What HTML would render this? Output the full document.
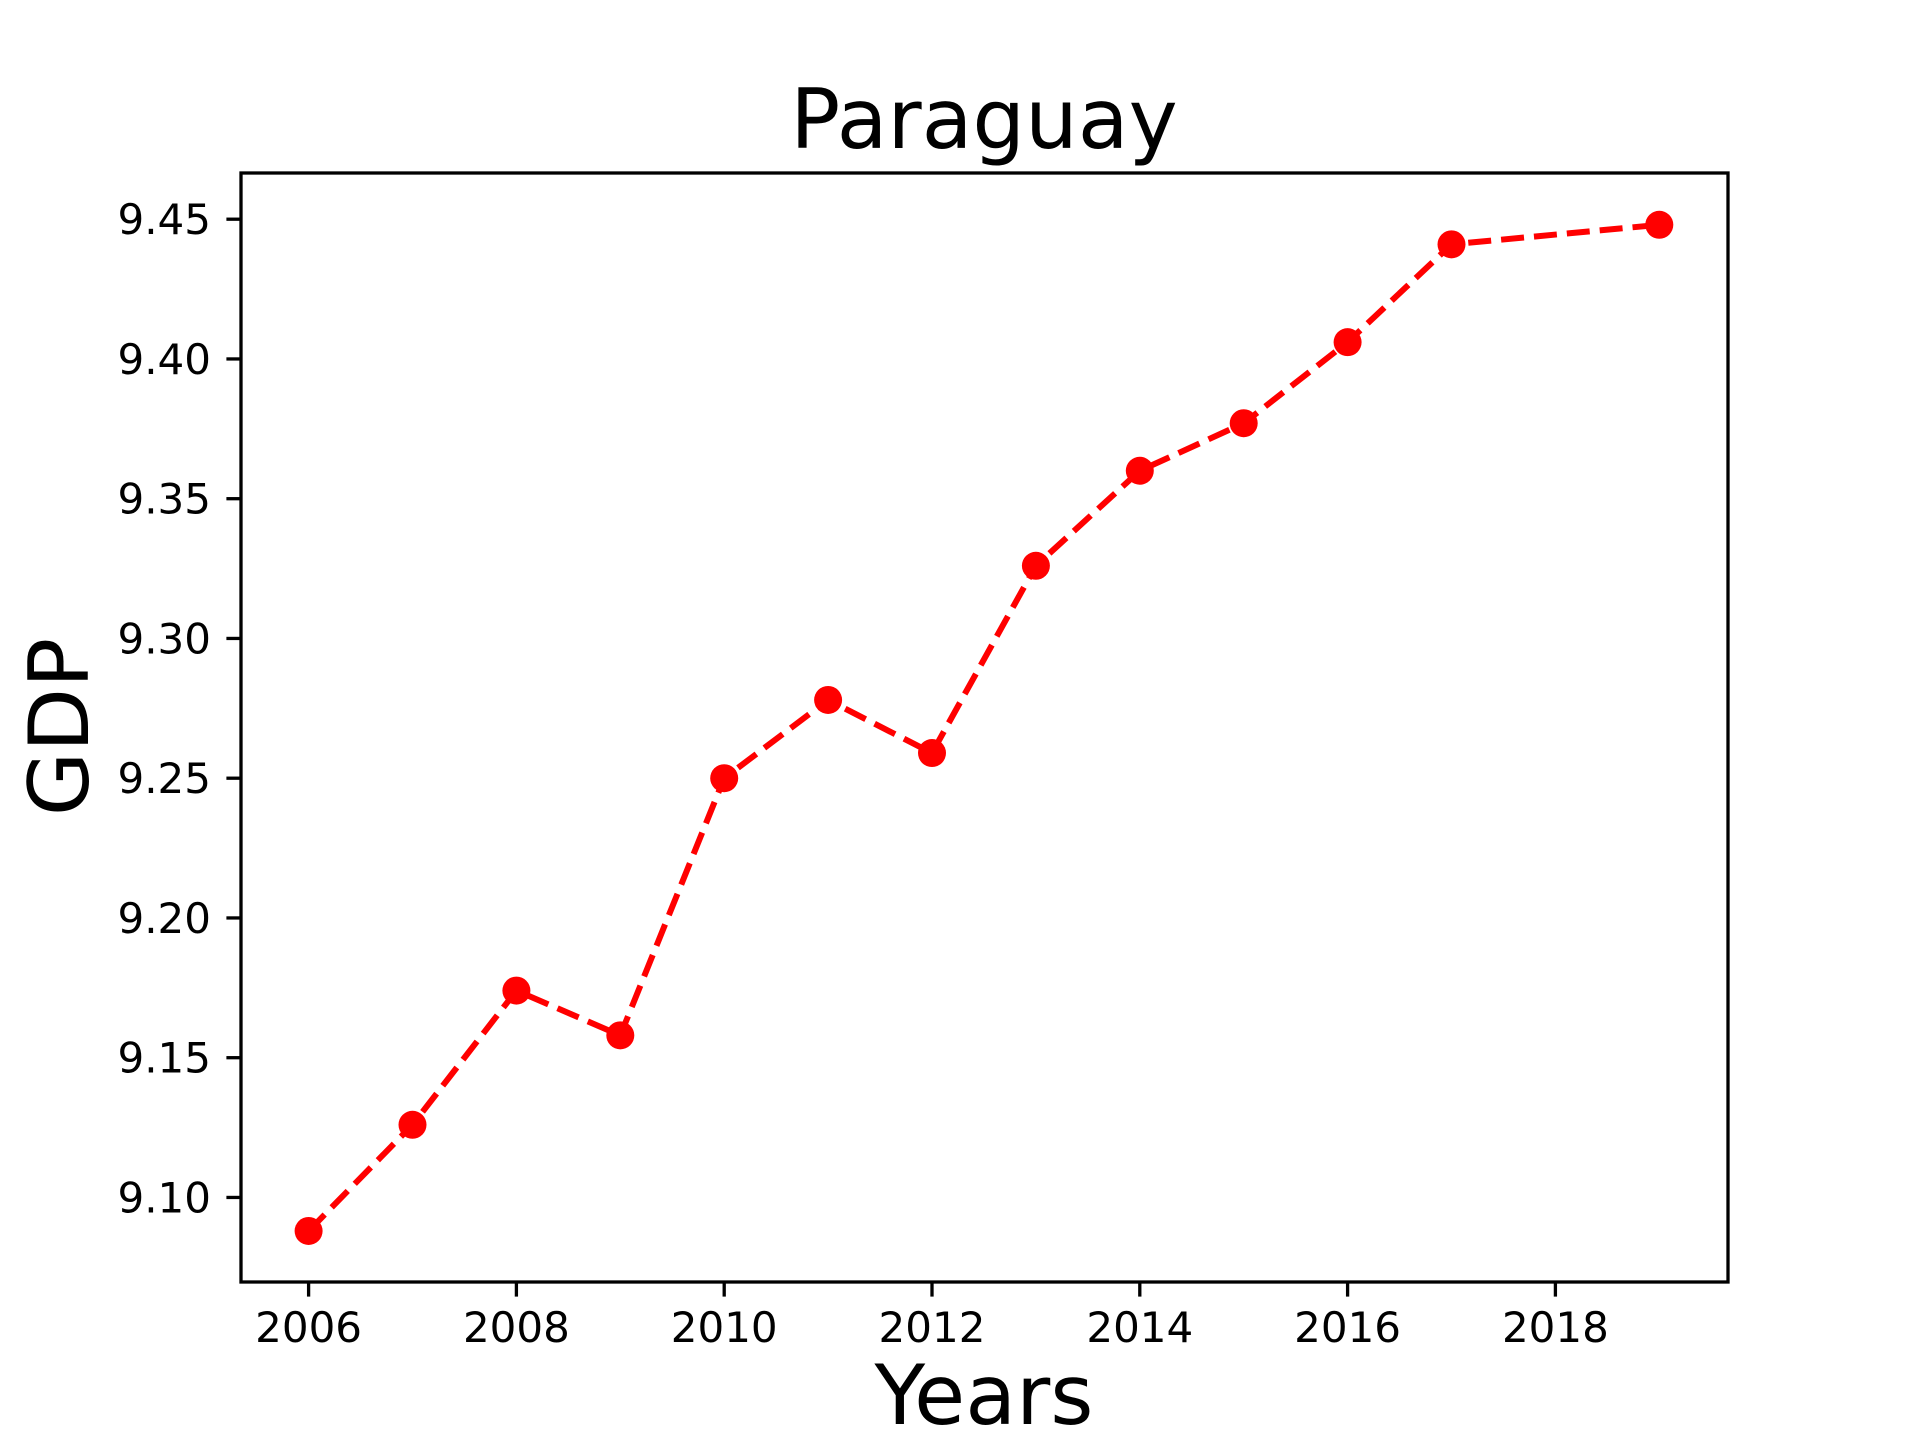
<!DOCTYPE html>
<html><head><meta charset="utf-8"><style>
html,body{margin:0;padding:0;background:#fff;}
svg{display:block;font-family:"DejaVu Sans","Liberation Sans",sans-serif;}
</style></head><body>
<svg id="chart" width="1920" height="1440" viewBox="0 0 1920 1440">
<rect width="1920" height="1440" fill="#fff"/>
<text x="984" y="148" font-size="83" text-anchor="middle">Paraguay</text>
<text x="984" y="1424" font-size="83" text-anchor="middle">Years</text>
<text transform="translate(88,727) rotate(-90)" font-size="83" text-anchor="middle">GDP</text>
<g id="ticks"></g>
<g id="series"></g>
<rect x="241" y="173" width="1487" height="1109" fill="none" stroke="#000" stroke-width="3.3"/>
</svg>
<script>
const years = [2006,2007,2008,2009,2010,2011,2012,2013,2014,2015,2016,2017,2019];
const gdp = [9.088,9.126,9.174,9.158,9.250,9.278,9.259,9.326,9.360,9.377,9.406,9.441,9.448];
const xTicks = [2006,2008,2010,2012,2014,2016,2018];
const yTicks = [9.10,9.15,9.20,9.25,9.30,9.35,9.40,9.45];
const yTickLabels = ["9.10","9.15","9.20","9.25","9.30","9.35","9.40","9.45"];

const NS="http://www.w3.org/2000/svg";
function xs(v){return 308.6+(v-2006)*103.9;}
function ys(v){return 219.2+(9.45-v)*2795;}
function mk(tag,attrs,parent){const e=document.createElementNS(NS,tag);for(const k in attrs)e.setAttribute(k,attrs[k]);parent.appendChild(e);return e;}
const tg=document.getElementById('ticks');
xTicks.forEach(t=>{
  const l=mk('line',{x1:xs(t),x2:xs(t),y1:1282,y2:1296.6,stroke:'#000','stroke-width':3.3},tg);
  
  
  const tx=mk('text',{x:xs(t),y:1342,'font-size':42,'text-anchor':'middle'},tg);
  tx.textContent=t;
  
  
});
yTicks.forEach((t,i)=>{
  const l=mk('line',{x1:226.4,x2:241,y1:ys(t),y2:ys(t),stroke:'#000','stroke-width':3.3},tg);
  
  
  const tx=mk('text',{x:211,y:ys(t)+15,'font-size':42,'text-anchor':'end'},tg);
  tx.textContent=yTickLabels[i];
  
  
});
const sg=document.getElementById('series');
const pts=years.map((y,i)=>xs(y)+','+ys(gdp[i])).join(' ');
const pl=mk('polyline',{points:pts,fill:'none',stroke:'#ff0000','stroke-width':6,'stroke-dasharray':'23 10'},sg);


years.forEach((y,i)=>{
  const c=mk('circle',{cx:xs(y),cy:ys(gdp[i]),r:14,fill:'#ff0000'},sg);
  
  
});
</script>
</body></html>
